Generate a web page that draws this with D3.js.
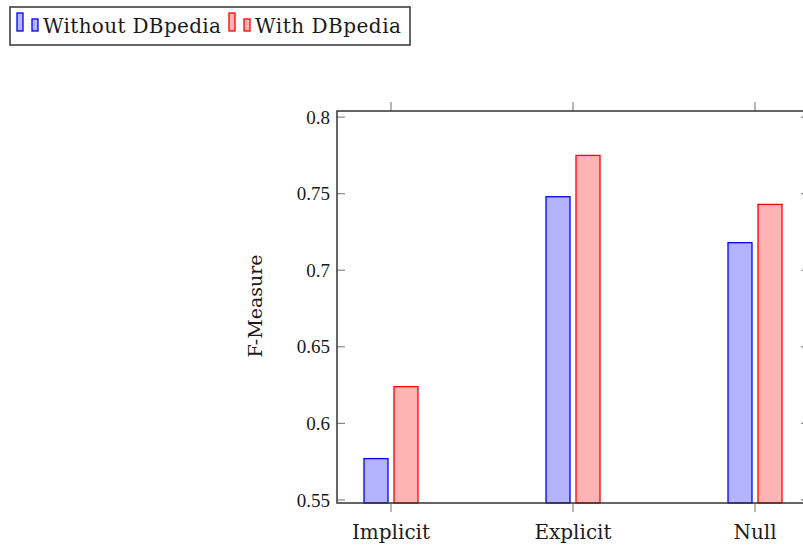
<!DOCTYPE html>
<html>
<head>
<meta charset="utf-8">
<script src="https://cdn.jsdelivr.net/npm/d3@7"></script>
<style>
  body { margin: 0; background: #fff; }
  svg text { font-family: "DejaVu Serif", serif; fill: #1a1a1a; }
  svg text.num { font-family: "Liberation Serif", serif; }
</style>
</head>
<body>
<svg id="chart" width="803" height="550"></svg>
<script>
// data
var categories = ["Implicit", "Explicit", "Null"];
var seriesNames = ["Without DBpedia", "With DBpedia"];
var withoutDB = [0.577, 0.748, 0.718];
var withDB = [0.624, 0.775, 0.743];
var yTicks = [0.55, 0.6, 0.65, 0.7, 0.75, 0.8];
var yTickLabels = ["0.55", "0.6", "0.65", "0.7", "0.75", "0.8"];

var colors = [
  { stroke: "#0000ff", fill: "#b3b3ff" },
  { stroke: "#ff0000", fill: "#ffb3b3" }
];

var svg = d3.select("#chart");
var pLeft = 337, pRight = 809, pTop = 111, pBottom = 503;

var x = d3.scalePoint().domain(categories).range([391, 755]);
var y = d3.scaleLinear().domain([0.548, 0.804]).range([pBottom, pTop]);

var barW = 24, offset = 15;
var series = [withoutDB, withDB];

// bars
series.forEach(function(vals, s) {
  svg.append("g").selectAll("rect").data(vals).enter().append("rect")
    .attr("x", function(d, i) { return x(categories[i]) + (s == 0 ? -offset : offset) - barW / 2; })
    .attr("y", function(d) { return y(d); })
    .attr("width", barW)
    .attr("height", function(d) { return pBottom - y(d); })
    .attr("fill", colors[s].fill)
    .attr("stroke", colors[s].stroke)
    .attr("stroke-width", 1.3);
});

// y ticks (inside, both sides)
var yt = svg.append("g");
yTicks.forEach(function(t, i) {
  yt.append("line").attr("x1", pLeft).attr("x2", pLeft + 8)
    .attr("y1", y(t)).attr("y2", y(t)).attr("stroke", "#888").attr("stroke-width", 1.2);
  yt.append("line").attr("x1", pRight - 8).attr("x2", pRight)
    .attr("y1", y(t)).attr("y2", y(t)).attr("stroke", "#888").attr("stroke-width", 1.2);
  yt.append("text").attr("class", "num").attr("x", 330).attr("y", y(t)).attr("dy", "0.35em")
    .attr("text-anchor", "end").style("font-size", "19px").text(yTickLabels[i]);
});

// x ticks (outside top and bottom)
categories.forEach(function(c) {
  svg.append("line").attr("x1", x(c)).attr("x2", x(c)).attr("y1", pBottom).attr("y2", pBottom + 9)
    .attr("stroke", "#888").attr("stroke-width", 1.2);
  svg.append("line").attr("x1", x(c)).attr("x2", x(c)).attr("y1", pTop - 9).attr("y2", pTop)
    .attr("stroke", "#888").attr("stroke-width", 1.2);
  svg.append("text").attr("x", x(c)).attr("y", 532).attr("dy", "0.35em")
    .attr("text-anchor", "middle").style("font-size", "20px").text(c);
});

// frame
svg.append("rect").attr("x", pLeft).attr("y", pTop).attr("width", pRight - pLeft).attr("height", pBottom - pTop)
  .attr("fill", "none").attr("stroke", "#333").attr("stroke-width", 1.5);

// y label
svg.append("text").attr("transform", "translate(255,306) rotate(-90)")
  .attr("dy", "0.35em").attr("text-anchor", "middle").style("font-size", "19px").text("F-Measure");

// legend
var lg = svg.append("g");
lg.append("rect").attr("x", 10).attr("y", 7).attr("width", 400).attr("height", 38)
  .attr("fill", "#fff").attr("stroke", "#333").attr("stroke-width", 1.5);
var legX = [17, 229];
seriesNames.forEach(function(name, s) {
  var lx = legX[s];
  lg.append("rect").attr("x", lx).attr("y", 13).attr("width", 6).attr("height", 18)
    .attr("fill", colors[s].fill).attr("stroke", colors[s].stroke).attr("stroke-width", 1.3);
  lg.append("rect").attr("x", lx + 15).attr("y", 19).attr("width", 6).attr("height", 12)
    .attr("fill", colors[s].fill).attr("stroke", colors[s].stroke).attr("stroke-width", 1.3);
  lg.append("text").attr("x", lx + 26).attr("y", 26).attr("dy", "0.35em")
    .attr("textLength", s == 0 ? 178 : 146).attr("lengthAdjust", "spacing")
    .style("font-size", "20px").text(name);
});
</script>
</body>
</html>
